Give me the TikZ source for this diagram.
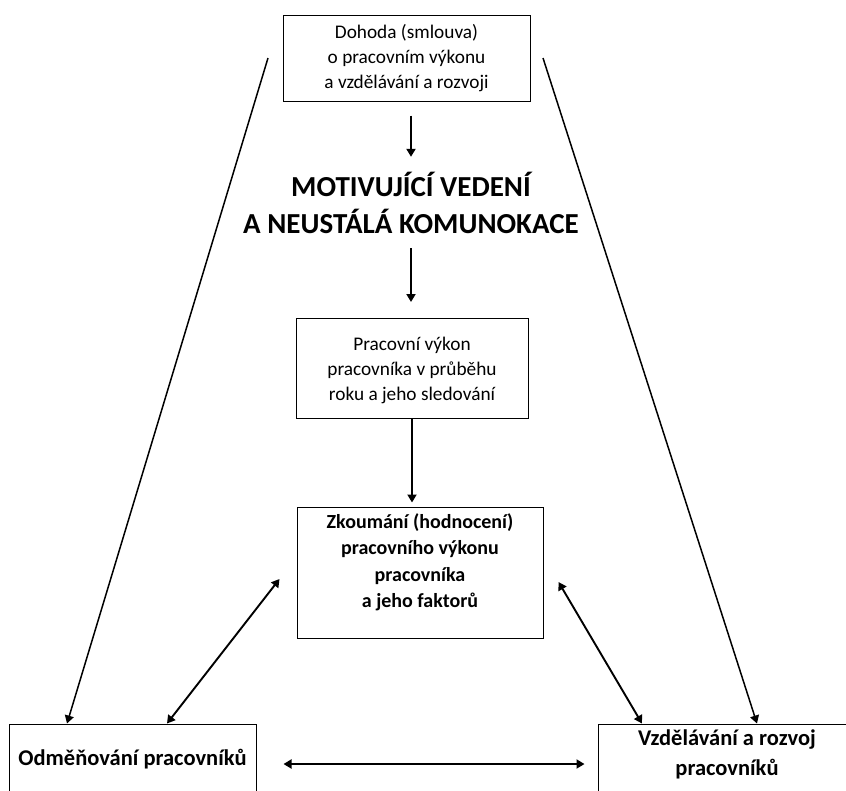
\documentclass[tikz,border=0pt]{standalone}
\usepackage{fontspec}
\setmainfont{Carlito}
\usetikzlibrary{arrows.meta}
\tikzset{
  box/.style={draw,line width=1pt,align=center,inner sep=0pt,font=\fontsize{19.3}{25}\selectfont},
  hbox/.style={box,font=\bfseries\fontsize{20}{26.5}\selectfont},
  endbox/.style={box,font=\bfseries\fontsize{22.5}{30}\selectfont},
  title/.style={align=center,inner sep=0pt,font=\bfseries\fontsize{29}{37}\selectfont},
  arr/.style={-{Triangle[length=8pt,width=9pt]},line width=1.9pt},
  dbl/.style={{Triangle[length=8pt,width=9pt]}-{Triangle[length=8pt,width=9pt]},line width=1.9pt},
}
\begin{document}
\begin{tikzpicture}[x=1pt,y=-1pt]
\useasboundingbox (0,0) rectangle (846,790);
\clip (0,0) rectangle (846,790);
% boxes
\node[box,minimum width=247pt,minimum height=86pt] (dohoda) at (406.5,58) {Dohoda (smlouva)\\o pracovním výkonu\\a vzdělávání a rozvoji};
\node[title,minimum height=91pt] (motiv) at (411,202.5) {MOTIVUJÍCÍ VEDENÍ\\A NEUSTÁLÁ KOMUNOKACE};
\node[box,minimum width=232pt,minimum height=100pt,text depth=0pt] (vykon) at (412,368.5) {Pracovní výkon\\pracovníka v průběhu\\roku a jeho sledování};
\node[hbox,minimum width=246pt,minimum height=131pt,text depth=24pt] (zkoum) at (420,572.5) {Zkoumání (hodnocení)\\pracovního výkonu\\pracovníka\\a jeho faktorů};
\node[endbox,minimum width=247pt,minimum height=80pt,text depth=13.5pt] (odm) at (132.5,764) {Odměňování pracovníků};
\node[endbox,minimum width=258pt,minimum height=80pt,text depth=22.5pt] (vzd) at (727,764) {Vzdělávání a rozvoj\\pracovníků};
% free ends of the long lines
\coordinate (lt) at (268,58);
\coordinate (rt) at (543,58);
% arrows
\draw[arr,shorten <=14pt] (dohoda.south -| motiv) -- (motiv.north);
\draw[arr,shorten >=16pt] (motiv.south) -- (vykon.north -| motiv);
\draw[arr,shorten >=4pt] (vykon.south) -- (zkoum.north -| vykon.south);
\draw[arr,line width=1.5pt] (lt) -- ([xshift=-65.5pt]odm.north);
\draw[arr,line width=1.5pt] (rt) -- ([xshift=30pt]vzd.north);
\draw[dbl] ([shift={(-17,6.5)}]zkoum.west) -- ([xshift=34.5pt]odm.north);
\draw[dbl] ([shift={(15,9.5)}]zkoum.east) -- ([xshift=-85pt]vzd.north);
\draw[dbl,shorten <=27pt,shorten >=13pt] (odm.east) -- (vzd.west);
\end{tikzpicture}
\end{document}
